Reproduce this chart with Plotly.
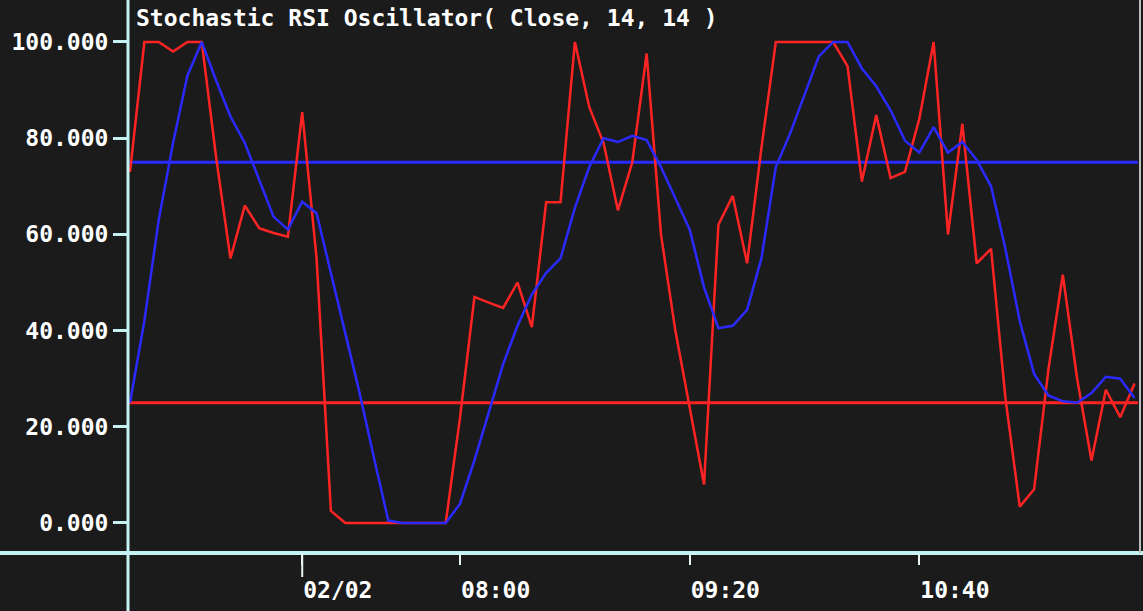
import plotly.graph_objects as go

# ---- data (bar index, 5-minute bars) ----
bar_index = list(range(71))
stoch_rsi_k = [73, 100, 100, 98, 100, 100, 76, 55, 66, 61.3, 60.3, 59.5, 85.4, 55, 2.5, 0, 0, 0, 0, 0,
               0, 0, 0, 22, 47, 45.8, 44.7, 50, 40.7, 66.7, 66.7, 100, 86.5, 79, 65, 75, 97.6, 60, 40, 24,
               8, 62, 68, 54, 78, 100, 100, 100, 100, 100, 95, 71, 84.8, 71.7, 73, 84, 100, 60, 83, 54,
               57, 26, 3.4, 7, 32, 51.6, 30, 13, 27.7, 22, 29]
stoch_rsi_d = [25, 42, 63, 79, 93, 100, 92, 84.5, 79, 71.5, 63.7, 61, 66.8, 64.4, 52, 40, 27, 13.5, 0.5, 0,
               0, 0, 0, 4, 13, 23, 33, 41, 47.5, 52, 55, 65.5, 74, 80, 79.2, 80.5, 79.6, 74, 67.5, 61,
               49, 40.5, 41, 44.3, 55, 74, 81, 89, 97, 100, 100, 94.5, 90.8, 85.8, 79.5, 77, 82.3, 77, 79.2, 75.5,
               70, 57, 42, 31, 26.5, 25.3, 25, 27, 30.4, 30, 26]
upper_level = 75
lower_level = 25
x_tick_index = [12, 23, 39, 55]
x_tick_labels = ["02/02", "08:00", "09:20", "10:40"]
y_tick_values = [0, 20, 40, 60, 80, 100]
title_text = "Stochastic RSI Oscillator( Close, 14, 14 )"

# ---- style ----
BG = "#1b1b1b"
AXIS = "#c4f2f2"
RED = "#ff2424"
BLUE = "#2a2aff"
FONT = "DejaVu Sans Mono"

fig = go.Figure()
fig.add_hline(y=upper_level, line=dict(color=BLUE, width=3), layer="below")
fig.add_hline(y=lower_level, line=dict(color=RED, width=3), layer="below")
fig.add_trace(go.Scatter(x=bar_index, y=stoch_rsi_k, mode="lines",
                         line=dict(color=RED, width=2.5), name="K"))
fig.add_trace(go.Scatter(x=bar_index, y=stoch_rsi_d, mode="lines",
                         line=dict(color=BLUE, width=2.5), name="D"))

W, H = 1143, 611
L, R, T, B = 128, 5, 0, 58
pw, ph = W - L - R, H - T - B

fig.update_layout(
    width=W, height=H,
    margin=dict(l=L, r=R, t=T, b=B, pad=0),
    paper_bgcolor=BG, plot_bgcolor=BG,
    showlegend=False,
    font=dict(family=FONT, color="white", size=23),
)
fig.update_xaxes(
    range=[-0.14, 70.24], showgrid=False, zeroline=False, showline=False, automargin=False,
    tickmode="array", tickvals=x_tick_index, ticktext=x_tick_labels,
    ticks="outside", ticklen=11, tickwidth=2, tickcolor="#e8f4f4",
    ticklabelposition="outside right", ticklabelstandoff=16,
    tickfont=dict(family=FONT, color="white", size=23, weight="bold"),
)
fig.update_yaxes(
    range=[-6.24, 108.73], showgrid=False, zeroline=False, showline=False, automargin=False,
    tickmode="array", tickvals=y_tick_values, tickformat=".3f",
    ticks="outside", ticklen=14, tickwidth=3, tickcolor=AXIS,
    tickfont=dict(family=FONT, color="white", size=23, weight="bold"),
)
# axis frame lines
fig.add_shape(type="line", xref="paper", yref="paper", x0=0, x1=0,
              y0=-B / ph, y1=1, line=dict(color=AXIS, width=3))
fig.add_shape(type="line", xref="paper", yref="paper", x0=-L / pw, x1=(W - L) / pw,
              y0=0, y1=0, line=dict(color=AXIS, width=4))
fig.add_shape(type="line", xref="paper", yref="paper", x0=(1140 - L) / pw, x1=(1140 - L) / pw,
              y0=0, y1=1, line=dict(color="#bcbcbc", width=2))
# longer tick at the date boundary
fig.add_shape(type="line", xref="x", yref="paper", x0=x_tick_index[0], x1=x_tick_index[0],
              y0=0, y1=-24 / ph, line=dict(color="#e8f4f4", width=2))
fig.add_annotation(text=title_text, xref="paper", yref="paper", x=0, y=1,
                   xanchor="left", yanchor="top", xshift=6, yshift=-3, showarrow=False,
                   font=dict(family=FONT, color="white", size=23, weight="bold"))

fig.write_html("out.html", config={"displayModeBar": False},
               post_script="document.body.style.margin='0';document.body.style.background='%s';" % BG)
